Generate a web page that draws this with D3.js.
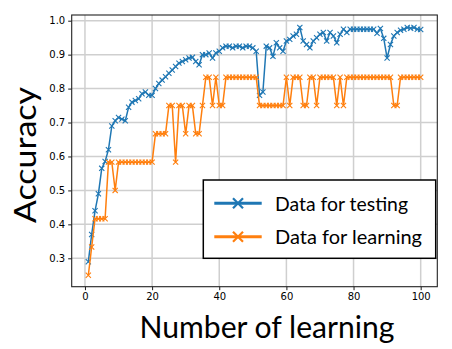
<!DOCTYPE html>
<html><head><meta charset="utf-8">
<script src="https://cdn.jsdelivr.net/npm/d3@7"></script>
<style>body{margin:0;background:#fff}svg{display:block}</style>
</head><body>
<svg id="c" width="452" height="349"></svg>
<script>
const testing = [0.29,0.37,0.44,0.49,0.565,0.585,0.62,0.69,0.705,0.715,
0.71,0.705,0.745,0.76,0.765,0.77,0.785,0.79,0.78,0.78,
0.80,0.815,0.825,0.835,0.845,0.855,0.865,0.875,0.88,0.885,
0.89,0.892,0.88,0.87,0.90,0.90,0.905,0.89,0.905,0.91,
0.92,0.925,0.925,0.92,0.925,0.925,0.92,0.925,0.925,0.92,
0.91,0.78,0.79,0.925,0.92,0.895,0.935,0.92,0.91,0.94,
0.945,0.955,0.96,0.98,0.94,0.93,0.92,0.94,0.95,0.96,
0.965,0.94,0.965,0.955,0.935,0.96,0.975,0.965,0.975,0.975,
0.975,0.975,0.975,0.975,0.975,0.975,0.963,0.977,0.948,0.89,
0.93,0.955,0.965,0.972,0.975,0.98,0.978,0.98,0.975,0.974];
const learning = [0.25,0.3333,0.4167,0.4167,0.4167,0.4167,0.5833,0.5833,0.5,0.5833,
0.5833,0.5833,0.5833,0.5833,0.5833,0.5833,0.5833,0.5833,0.5833,0.5833,
0.6667,0.6667,0.6667,0.6667,0.75,0.75,0.5833,0.75,0.75,0.6667,
0.75,0.75,0.6667,0.6667,0.75,0.8333,0.8333,0.75,0.8333,0.75,
0.75,0.8333,0.8333,0.8333,0.8333,0.8333,0.8333,0.8333,0.8333,0.8333,
0.8333,0.75,0.75,0.75,0.75,0.75,0.75,0.75,0.75,0.8333,
0.75,0.8333,0.8333,0.8333,0.75,0.75,0.8333,0.8333,0.75,0.8333,
0.8333,0.8333,0.8333,0.8333,0.75,0.8333,0.75,0.8333,0.8333,0.8333,
0.8333,0.8333,0.8333,0.8333,0.8333,0.8333,0.8333,0.8333,0.8333,0.8333,
0.8333,0.75,0.75,0.8333,0.8333,0.8333,0.8333,0.8333,0.8333,0.8333];
const xTicks = [0,20,40,60,80,100];
const yTicks = [0.3,0.4,0.5,0.6,0.7,0.8,0.9,1.0];
const seriesNames = ["Data for testing","Data for learning"];
const colors = ["#1f77b4","#ff7f0e"];

const svg = d3.select("#c");
const L=71.7,R=437.3,T=15,B=286.7;
const x = d3.scaleLinear().domain([-3.95,104.95]).range([L,R]);
const y = d3.scaleLinear().domain([0.2163,1.0168]).range([B,T]);

// grid
const g = svg.append("g");
g.selectAll(".gx").data(xTicks).enter().append("line")
 .attr("x1",d=>x(d)).attr("x2",d=>x(d)).attr("y1",T).attr("y2",B)
 .attr("stroke","#cfcfcf").attr("stroke-width",1.5);
g.selectAll(".gy").data(yTicks).enter().append("line")
 .attr("y1",d=>y(d)).attr("y2",d=>y(d)).attr("x1",L).attr("x2",R)
 .attr("stroke","#cfcfcf").attr("stroke-width",1.5);

// axes
const xa = svg.append("g").attr("transform",`translate(0,${B})`)
 .call(d3.axisBottom(x).tickValues(xTicks).tickSize(3.5).tickPadding(3).tickFormat(d3.format("d")));
const ya = svg.append("g").attr("transform",`translate(${L},0)`)
 .call(d3.axisLeft(y).tickValues(yTicks).tickSize(3.5).tickPadding(3).tickFormat(d3.format(".1f")));
[xa,ya].forEach(a=>{a.select(".domain").remove();
 a.selectAll("text").attr("font-family","DejaVu Sans").attr("font-size","10px").attr("fill","#000");
 a.selectAll("line").attr("stroke","#000").attr("stroke-width",0.9);});

// data
const data=[testing,learning];
const line = d3.line().x((d,i)=>x(i+1)).y(d=>y(d));
const xm = (sel,s)=>sel.attr("d",`M${-s},${-s}L${s},${s}M${-s},${s}L${s},${-s}`);
data.forEach((arr,k)=>{
 svg.append("path").datum(arr).attr("d",line).attr("fill","none")
  .attr("stroke",colors[k]).attr("stroke-width",1.5);
 svg.append("g").selectAll("path").data(arr).enter().append("path")
  .attr("transform",(d,i)=>`translate(${x(i+1)},${y(d)})`)
  .call(xm,2.6).attr("stroke",colors[k]).attr("stroke-width",1.1).attr("fill","none");
});

// frame
svg.append("rect").attr("x",L).attr("y",T).attr("width",R-L).attr("height",B-T)
 .attr("fill","none").attr("stroke","#222").attr("stroke-width",1.1);

// labels
svg.append("text").attr("x",267).attr("y",338).attr("text-anchor","middle")
 .attr("font-family","Lato").attr("font-size","30px").attr("fill","#000")
 .attr("textLength",255).attr("lengthAdjust","spacingAndGlyphs").text("Number of learning");
svg.append("text").attr("transform","translate(36,155) rotate(-90)").attr("text-anchor","middle")
 .attr("font-family","Lato").attr("font-size","30px").attr("fill","#000")
 .attr("textLength",136).attr("lengthAdjust","spacingAndGlyphs").text("Accuracy");

// legend
const lg = svg.append("g");
lg.append("rect").attr("x",203.3).attr("y",180).attr("width",232.4).attr("height",78.3)
 .attr("fill","#fff").attr("stroke","#000").attr("stroke-width",1.5);
const ly=[203.3,236.7], tw=[133,147];
seriesNames.forEach((n,k)=>{
 lg.append("line").attr("x1",214.3).attr("x2",261.7).attr("y1",ly[k]).attr("y2",ly[k])
  .attr("stroke",colors[k]).attr("stroke-width",3);
 lg.append("path").attr("transform",`translate(238,${ly[k]})`).call(xm,5)
  .attr("stroke",colors[k]).attr("stroke-width",2.2);
 lg.append("text").attr("x",275).attr("y",ly[k]+7.3).attr("font-family","Lato")
  .attr("font-size","20px").attr("fill","#000").attr("textLength",tw[k])
  .attr("lengthAdjust","spacingAndGlyphs").text(n);
});
</script>
</body></html>
